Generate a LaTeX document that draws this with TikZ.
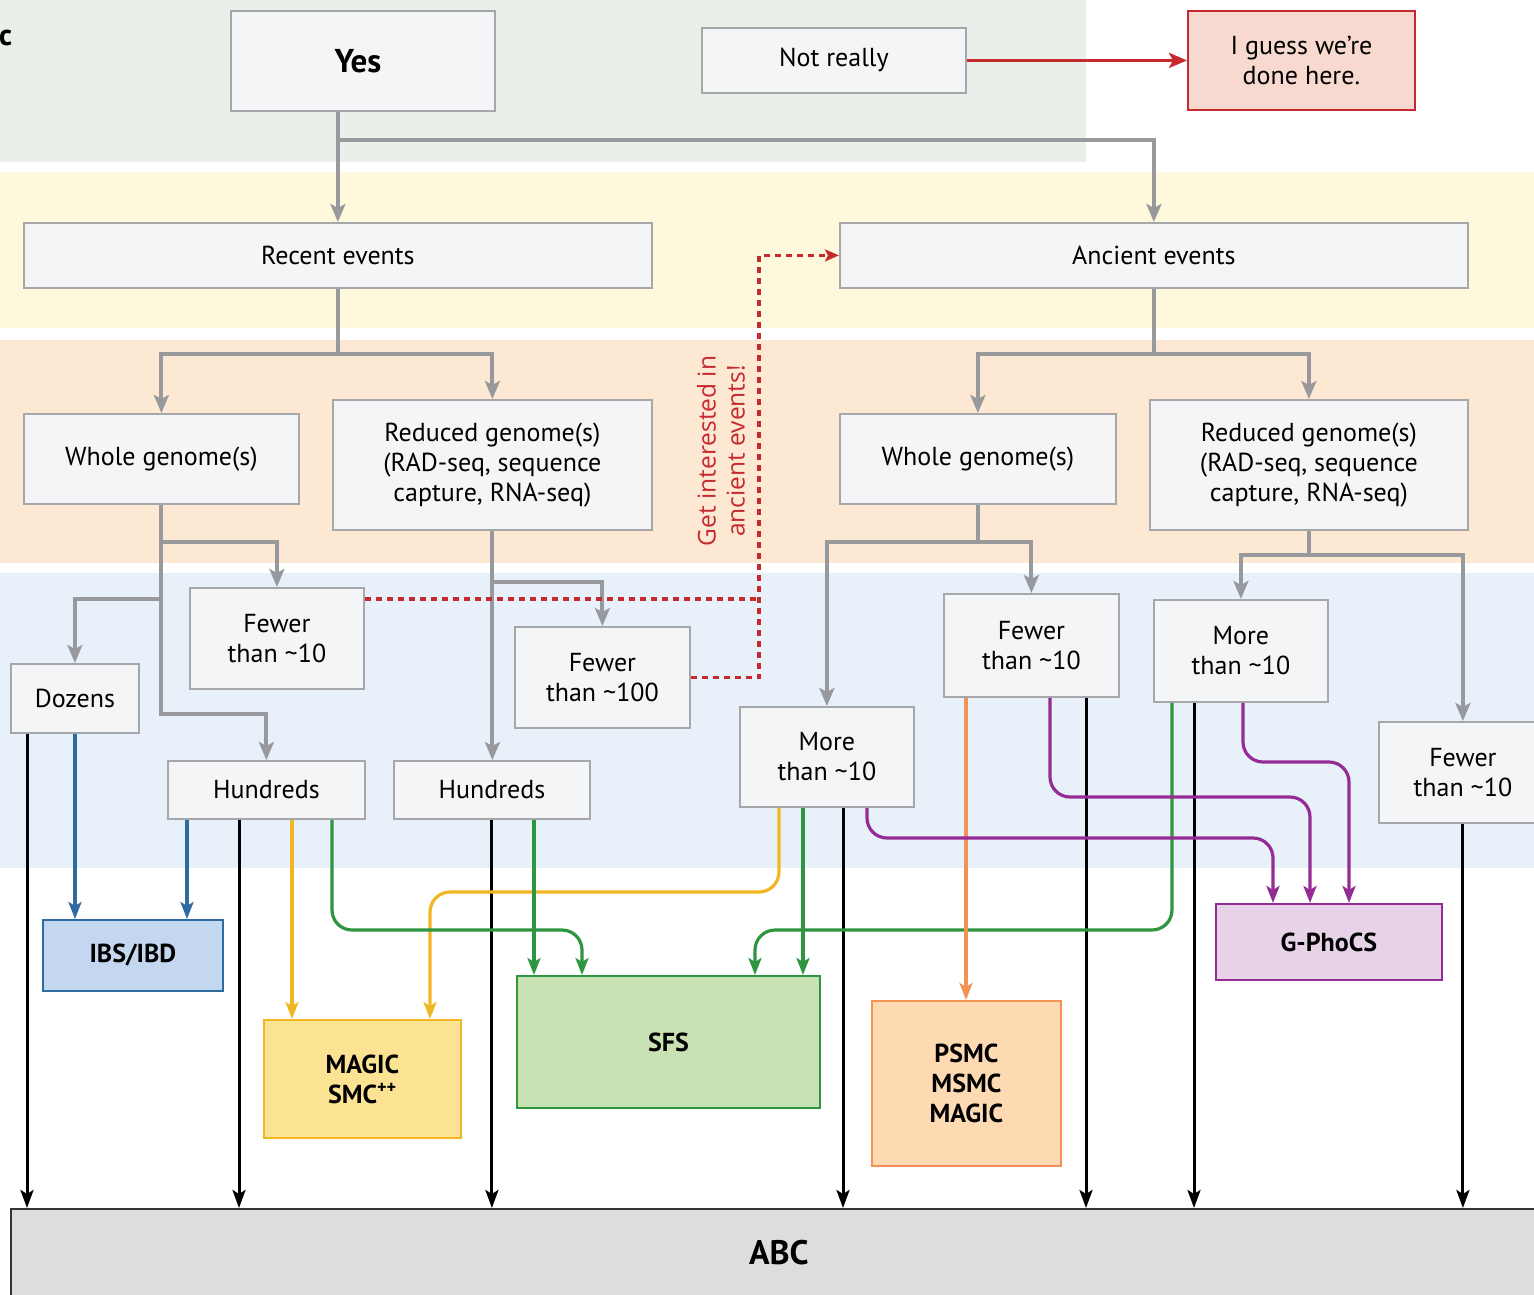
\documentclass[tikz,border=0pt]{standalone}
\usepackage{fontspec}
\setmainfont{PT Sans}
\newfontfamily\opensans{Open Sans}
\usetikzlibrary{arrows.meta,calc}
\definecolor{bandgreen}{HTML}{E9F0E9}
\definecolor{bandyellow}{HTML}{FEF8DC}
\definecolor{bandpeach}{HTML}{FDE9D3}
\definecolor{bandblue}{HTML}{E8F0FA}
\definecolor{lgray}{RGB}{152,153,156}
\definecolor{boxfill}{HTML}{F4F5F7}
\definecolor{boxborder}{RGB}{165,167,170}
\definecolor{myred}{HTML}{C62A2F}
\definecolor{redfill}{HTML}{F7D9CF}
\definecolor{myblue}{HTML}{2F6AA0}
\definecolor{bluefill}{HTML}{C3D8F0}
\definecolor{myyellow}{HTML}{F0B623}
\definecolor{yellowfill}{HTML}{FBE393}
\definecolor{mygreen}{HTML}{2E9540}
\definecolor{greenfill}{HTML}{C9E2B3}
\definecolor{myorange}{HTML}{F39255}
\definecolor{orangefill}{HTML}{FDDAB2}
\definecolor{mypurple}{HTML}{952C96}
\definecolor{purplefill}{HTML}{E6D3E7}
\definecolor{abcfill}{HTML}{DCDDDF}
\tikzset{
  box/.style={draw=boxborder, fill=boxfill, line width=1.8pt, align=center, inner sep=0pt,
    anchor=north west, font=\fontsize{26}{30}\selectfont},
  resbox/.style={line width=1.8pt, align=center, inner sep=0pt, anchor=north west,
    font=\bfseries\fontsize{26}{30}\selectfont},
  gl/.style={draw=lgray, line width=4pt},
  garr/.style={gl, -{Stealth[length=18pt,width=15pt,inset=4pt]}},
  blk/.style={draw=black, line width=3pt, -{Stealth[length=18pt,width=13pt,inset=4pt]}},
  carr/.style={line width=3.2pt, rounded corners=20pt, -{Stealth[length=17pt,width=13pt,inset=4pt]}},
  rdash/.style={draw=myred, line width=3.5pt, dash pattern=on 6pt off 5pt},
}
\begin{document}
\begin{tikzpicture}[x=1pt,y=-1pt]
\useasboundingbox (0,0) rectangle (1534,1294);
% bands
\fill[bandgreen] (0,0) rectangle (1086,162);
\fill[bandyellow] (0,172) rectangle (1534,328);
\fill[bandpeach] (0,340) rectangle (1534,563);
\fill[bandblue] (0,573) rectangle (1534,868);
\node[anchor=west, inner sep=0pt, font=\bfseries\fontsize{30}{32}\selectfont] (panel) at (-1,38) {c};
% boxes
\node[box, minimum width=264pt, minimum height=100pt, font=\bfseries\fontsize{33}{36}\selectfont] (yes) at (230,10) {Yes\hspace*{10pt}};
\node[box, minimum width=264pt, minimum height=65pt] (notreally) at (701,27) {Not really};
\node[box, draw=myred, fill=redfill, minimum width=227pt, minimum height=99pt] (iguess) at (1187,10) {I guess we’re\\done here.};
\node[box, minimum width=628pt, minimum height=65pt] (recent) at (23,222) {Recent events};
\node[box, minimum width=628pt, minimum height=65pt] (ancient) at (839,222) {Ancient events};
\node[box, minimum width=275pt, minimum height=90pt] (wgl) at (23,413) {Whole genome(s)};
\node[box, minimum width=319pt, minimum height=130pt] (rgl) at (332,399) {Reduced genome(s)\\(RAD-seq, sequence\\capture, RNA-seq)};
\node[box, minimum width=276pt, minimum height=90pt] (wgr) at (839,413) {Whole genome(s)};
\node[box, minimum width=318pt, minimum height=130pt] (rgr) at (1149,399) {Reduced genome(s)\\(RAD-seq, sequence\\capture, RNA-seq)};
\node[box, minimum width=174pt, minimum height=101pt] (fewL) at (189,587) {Fewer\\than \textasciitilde10};
\node[box, minimum width=128pt, minimum height=69pt] (dozens) at (10,663) {Dozens};
\node[box, minimum width=197pt, minimum height=58pt] (hundL) at (167,760) {Hundreds};
\node[box, minimum width=175pt, minimum height=101pt] (few100) at (514,626) {Fewer\\than \textasciitilde100};
\node[box, minimum width=196pt, minimum height=58pt] (hundM) at (393,760) {Hundreds};
\node[box, minimum width=174pt, minimum height=100pt] (moreM) at (739,706) {More\\than \textasciitilde10};
\node[box, minimum width=175pt, minimum height=103pt] (fewR) at (943,593) {Fewer\\than \textasciitilde10};
\node[box, minimum width=174pt, minimum height=102pt] (moreR) at (1153,599) {More\\than \textasciitilde10};
\node[box, minimum width=168pt, minimum height=101pt] (fewFR) at (1378,721) {Fewer\\than \textasciitilde10};
% result boxes
\node[resbox, draw=myblue, fill=bluefill, minimum width=180pt, minimum height=71pt] (ibs) at (42,919) {IBS/IBD};
\node[resbox, draw=myyellow, fill=yellowfill, minimum width=197pt, minimum height=118pt] (magic) at (263,1019) {MAGIC\\SMC\textsuperscript{++}};
\node[resbox, draw=mygreen, fill=greenfill, minimum width=303pt, minimum height=132pt] (sfs) at (516,975) {SFS};
\node[resbox, draw=myorange, fill=orangefill, minimum width=189pt, minimum height=165pt] (psmc) at (871,1000) {PSMC\\MSMC\\MAGIC};
\node[resbox, draw=mypurple, fill=purplefill, minimum width=226pt, minimum height=76pt] (gph) at (1215,903) {G-PhoCS};
\node[resbox, draw=black!80, fill=abcfill, minimum width=1536pt, minimum height=88pt, font=\bfseries\fontsize{34}{36}\selectfont] (abc) at (10,1208) {ABC};
% gray connectors
\draw[garr] (yes.south -| recent.north) -- (recent.north);
\draw[garr] ([xshift=-2pt]recent.north |- 0,140) -| (ancient.north);
\draw[gl] (recent.south) -- (recent.south |- 0,354);
\draw[garr] (recent.south |- 0,354) -| (wgl.north);
\draw[garr] (recent.south |- 0,354) -| (rgl.north);
\draw[gl] (ancient.south) -- (ancient.south |- 0,354);
\draw[garr] (ancient.south |- 0,354) -| (wgr.north);
\draw[garr] (ancient.south |- 0,354) -| (rgr.north);
\draw[garr] (wgl.south) |- (hundL.north |- 0,714) -- (hundL.north);
\draw[garr] (wgl.south |- 0,542) -| (fewL.north);
\draw[garr] (wgl.south |- 0,599) -| (dozens.north);
\draw[garr] (rgl.south) -- (rgl.south |- hundL.north);
\draw[garr] (rgl.south |- 0,582) -| (few100.north);
\draw[gl] (wgr.south) -- (wgr.south |- 0,542);
\draw[garr] (wgr.south |- 0,542) -| (moreM.north);
\draw[garr] (wgr.south |- 0,542) -| (fewR.north);
\draw[gl] (rgr.south) -- (rgr.south |- 0,555);
\draw[garr] (rgr.south |- 0,555) -| (moreR.north);
\draw[garr] (rgr.south |- 0,555) -| (fewFR.north);
% red connectors
\coordinate (lane) at (759,0);
\draw[rdash] (fewL.east |- 0,599) -- (lane |- 0,599);
\draw[rdash, -{Stealth[length=14pt,width=12pt,inset=3pt]}] (few100.east) -- (lane |- few100.east) -- (lane |- ancient.west) -- (ancient.west);
\draw[draw=myred, line width=3.5pt, -{Stealth[length=18pt,width=15pt,inset=4pt]}] (notreally.east) -- (iguess.west);
\node[rotate=90, text=myred, align=center, inner sep=0pt, font=\opensans\fontsize{24.5}{29}\selectfont] (getint) at (721,451) {Get interested in\\ancient events!};
% black connectors
\draw[blk] (27,0 |- dozens.south) -- (27,0 |- abc.north);
\draw[blk] (239,0 |- hundL.south) -- (239,0 |- abc.north);
\draw[blk] (hundM.south) -- (hundM.south |- abc.north);
\draw[blk] (843,0 |- moreM.south) -- (843,0 |- abc.north);
\draw[blk] (1086,0 |- fewR.south) -- (1086,0 |- abc.north);
\draw[blk] (1194,0 |- moreR.south) -- (1194,0 |- abc.north);
\draw[blk] (fewFR.south) -- (fewFR.south |- abc.north);
% blue
\draw[carr, draw=myblue] (75,0 |- dozens.south) -- (75,0 |- ibs.north);
\draw[carr, draw=myblue] (187,0 |- hundL.south) -- (187,0 |- ibs.north);
% yellow
\draw[carr, draw=myyellow] (292,0 |- hundL.south) -- (292,0 |- magic.north);
\draw[carr, draw=myyellow] (779,0 |- moreM.south) -- (779,892) -- (430,892) -- (430,0 |- magic.north);
% green
\draw[carr, draw=mygreen] (332,0 |- hundL.south) -- (332,930) -- (582,930) -- (582,0 |- sfs.north);
\draw[carr, draw=mygreen] (534,0 |- hundM.south) -- (534,0 |- sfs.north);
\draw[carr, draw=mygreen] (803,0 |- moreM.south) -- (803,0 |- sfs.north);
\draw[carr, draw=mygreen] (1172,0 |- moreR.south) -- (1172,930) -- (755,930) -- (755,0 |- sfs.north);
% orange
\draw[carr, draw=myorange] (966,0 |- fewR.south) -- (966,0 |- psmc.north);
% purple
\draw[carr, draw=mypurple] (867,0 |- moreM.south) -- (867,838) -- (1273,838) -- (1273,0 |- gph.north);
\draw[carr, draw=mypurple] (1050,0 |- fewR.south) -- (1050,797) -- (1310,797) -- (1310,0 |- gph.north);
\draw[carr, draw=mypurple] (1243,0 |- moreR.south) -- (1243,762) -- (1349,762) -- (1349,0 |- gph.north);
\end{tikzpicture}
\end{document}
